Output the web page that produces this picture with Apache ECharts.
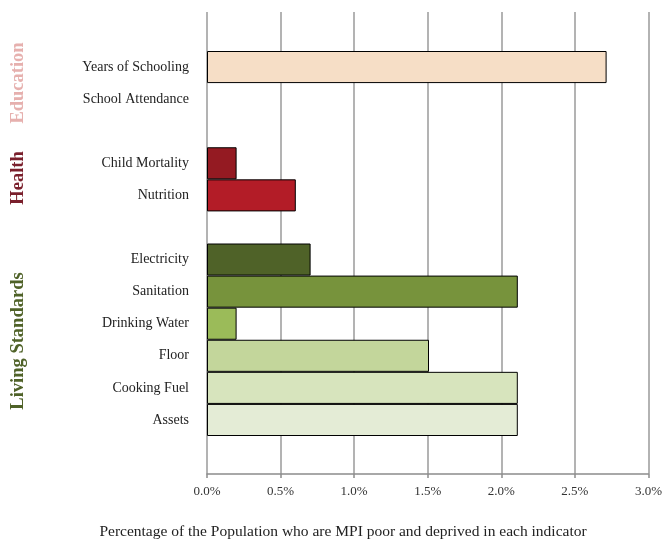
<!DOCTYPE html>
<html>
<head>
<meta charset="utf-8">
<script src="https://cdn.jsdelivr.net/npm/echarts@6/dist/echarts.min.js"></script>
<style>html,body{margin:0;padding:0;background:#fff}#c{width:665px;height:541px}</style>
</head>
<body>
<div id="c"></div>
<script>
// Indicators, top to bottom (blank entries are spacer rows between groups)
var categories = ['Years of Schooling', 'School Attendance', ' ', 'Child Mortality', 'Nutrition', '  ',
  'Electricity', 'Sanitation', 'Drinking Water', 'Floor', 'Cooking Fuel', 'Assets'];
// Percentage of population who are MPI poor and deprived in each indicator
var values = [2.7, 0, null, 0.2, 0.6, null, 0.7, 2.1, 0.2, 1.5, 2.1, 2.1];
var barColors = ['#F6DEC6', '#F6DEC6', '#fff', '#941A22', '#B31C27', '#fff',
  '#4F6228', '#77933C', '#9BBB59', '#C3D69B', '#D7E4BD', '#E4ECD6'];
var groups = ['Education', 'Health', 'Living Standards'];
var groupColors = ['#E6B0AE', '#7A1F2C', '#4F6228'];
var xTicksMax = 3, xTickStep = 0.5;
var axisTitle = 'Percentage of the Population who are MPI poor and deprived in each indicator';

var FONT = '"Liberation Serif", "DejaVu Serif", serif';
var chart = echarts.init(document.getElementById('c'));

var seriesData = values.map(function (v, i) {
  if (v === null) return '-';
  return { value: v, itemStyle: { color: barColors[i], borderColor: '#000', borderWidth: v > 0 ? 1 : 0 } };
});

var groupPos = [83, 178, 341];

chart.setOption({
  animation: false,
  backgroundColor: '#fff',
  grid: [
    { left: 207, right: 14, top: 12, bottom: 67 },
    { left: 207, right: 14, top: 51, height: 385 }
  ],
  xAxis: [
    {
      gridIndex: 0, type: 'value', min: 0, max: xTicksMax, interval: xTickStep,
      axisLine: { show: true, lineStyle: { color: '#8c8c8c', width: 1.5 } },
      axisTick: { show: true, length: 4, lineStyle: { color: '#8c8c8c', width: 1.5 } },
      splitLine: { show: true, lineStyle: { color: '#9a9a9a', width: 1.5 } },
      axisLabel: { margin: 11, color: '#333', fontFamily: FONT, fontSize: 13,
        formatter: function (v) { return v.toFixed(1) + '%'; } }
    },
    {
      gridIndex: 1, type: 'value', min: 0, max: xTicksMax, interval: xTickStep, show: false,
      splitLine: { show: false }
    }
  ],
  yAxis: [
    { gridIndex: 0, type: 'value', show: false, splitLine: { show: false } },
    {
      gridIndex: 1, type: 'category', data: categories, inverse: true,
      axisLine: { show: false }, axisTick: { show: false },
      axisLabel: { margin: 18, color: '#222', fontFamily: FONT, fontSize: 14 }
    }
  ],
  series: [{
    type: 'bar', xAxisIndex: 1, yAxisIndex: 1,
    barCategoryGap: 0, barWidth: '100%',
    data: seriesData
  }],
  graphic: groups.map(function (g, i) {
    return {
      type: 'text', x: 18, y: groupPos[i], rotation: Math.PI / 2,
      style: { text: g, fill: groupColors[i], font: 'bold 18.5px ' + FONT,
        textAlign: 'center', textVerticalAlign: 'middle' }
    };
  }).concat([{
    type: 'text', x: 343, y: 532,
    style: { text: axisTitle, fill: '#222', font: '15.5px ' + FONT,
      textAlign: 'center', textVerticalAlign: 'middle' }
  }])
});
</script>
</body>
</html>
